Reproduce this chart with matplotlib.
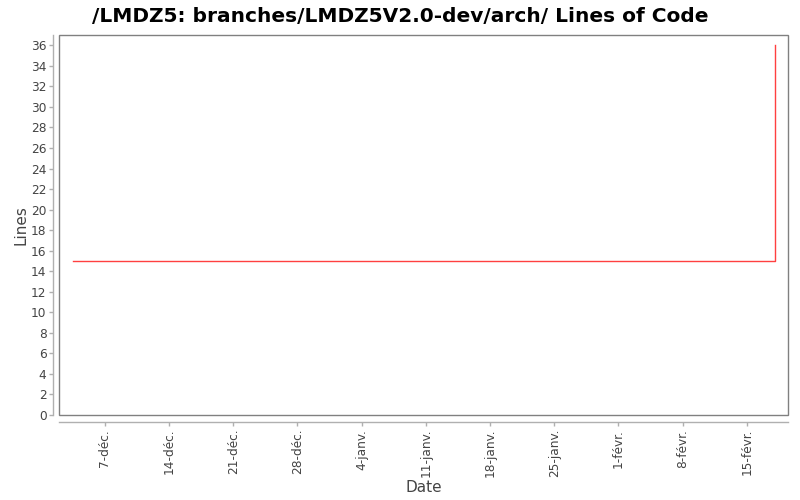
import matplotlib
matplotlib.use("Agg")
import matplotlib.pyplot as plt
from matplotlib.patches import Rectangle
from datetime import datetime

# data
dates = [datetime(2008, 12, 3, 12), datetime(2009, 2, 18, 2), datetime(2009, 2, 18, 2)]
lines = [15, 15, 36]

tick_dates = [datetime(2008, 12, 7), datetime(2008, 12, 14), datetime(2008, 12, 21),
              datetime(2008, 12, 28), datetime(2009, 1, 4), datetime(2009, 1, 11),
              datetime(2009, 1, 18), datetime(2009, 1, 25), datetime(2009, 2, 1),
              datetime(2009, 2, 8), datetime(2009, 2, 15)]
tick_labels = ["7-déc.", "14-déc.", "21-déc.", "28-déc.", "4-janv.", "11-janv.",
               "18-janv.", "25-janv.", "1-févr.", "8-févr.", "15-févr."]

fig = plt.figure(figsize=(8, 5), dpi=100)
ax = fig.add_axes([0.07375, 0.17, 0.91125, 0.76])

ax.plot(dates, lines, color="#ff4040", linewidth=1)

ax.set_xlim(datetime(2008, 12, 2), datetime(2009, 2, 19, 12))
ax.set_ylim(0, 37)
ax.set_yticks(range(0, 37, 2))
ax.set_xticks(tick_dates)
ax.set_xticklabels(tick_labels)

# frame around the plot area
ax.add_patch(Rectangle((0, 0), 1, 1, transform=ax.transAxes, fill=False,
                       edgecolor="#808080", linewidth=1, clip_on=False, zorder=5))
for s in ["top", "right"]:
    ax.spines[s].set_visible(False)
ax.spines["bottom"].set_position(("outward", 5))
ax.spines["left"].set_position(("outward", 4))
for s in ["bottom", "left"]:
    ax.spines[s].set_color("#b0b0b0")
    ax.spines[s].set_linewidth(1)

ax.tick_params(axis="both", colors="#b0b0b0", length=3, width=1,
               labelsize=8.7, labelcolor="#444444", pad=2)
ax.tick_params(axis="x", labelrotation=90)

fig.suptitle("/LMDZ5: branches/LMDZ5V2.0-dev/arch/ Lines of Code",
             x=0.5, y=0.985, fontsize=14.5, fontweight="bold")
ax.set_ylabel("Lines", fontsize=11, color="#444444", labelpad=2)
ax.set_xlabel("Date", fontsize=11, color="#444444", labelpad=2)

fig.savefig("out.png", dpi=100)
